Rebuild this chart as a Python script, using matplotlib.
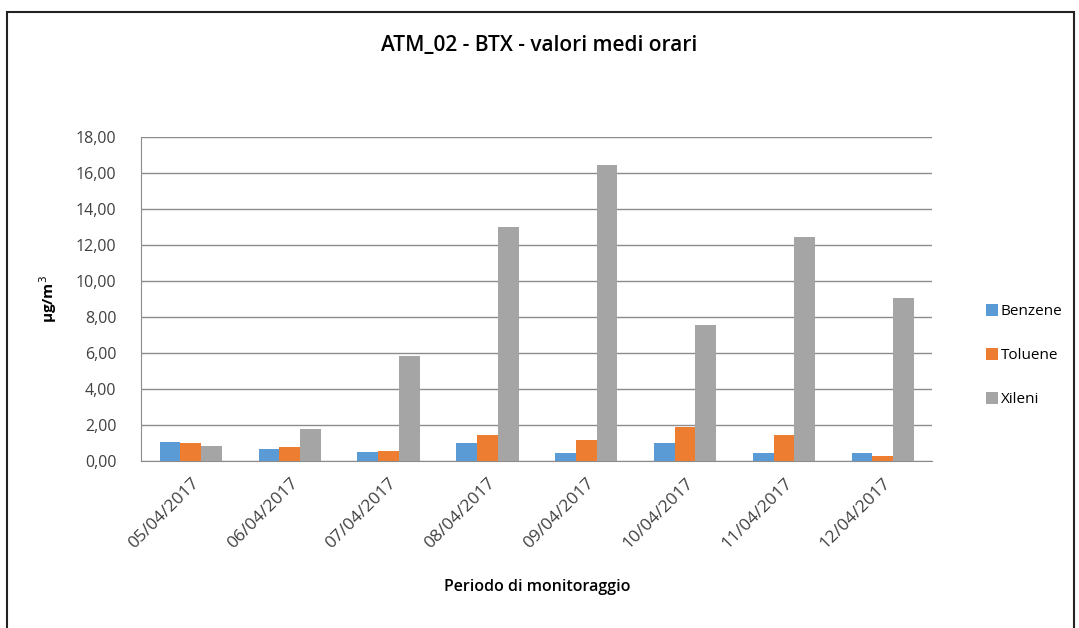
import matplotlib.pyplot as plt
import numpy as np
from matplotlib.patches import Rectangle
from matplotlib.ticker import FuncFormatter

plt.rcParams["font.family"] = ["Open Sans", "DejaVu Sans"]

dates = ["05/04/2017", "06/04/2017", "07/04/2017", "08/04/2017",
         "09/04/2017", "10/04/2017", "11/04/2017", "12/04/2017"]
benzene = [1.07, 0.67, 0.51, 0.99, 0.43, 0.99, 0.43, 0.43]
toluene = [0.99, 0.76, 0.58, 1.45, 1.15, 1.86, 1.45, 0.28]
xileni = [0.82, 1.78, 5.81, 12.99, 16.43, 7.53, 12.45, 9.06]

series = [("Benzene", benzene, "#5b9bd5"),
          ("Toluene", toluene, "#ed7d31"),
          ("Xileni", xileni, "#a5a5a5")]

fig = plt.figure(figsize=(10.79, 6.28), dpi=100)
# outer chart border (runs off the bottom edge like in the screenshot)
fig.patches.append(Rectangle((0.0065, -0.02), 0.989, 1.001, transform=fig.transFigure,
                             fill=False, edgecolor="#222222", linewidth=1.5))

ax = fig.add_axes([0.131, 0.266, 0.733, 0.516])
x = np.arange(len(dates))
w = 0.21
for i, (name, vals, col) in enumerate(series):
    ax.bar(x + (i - 1) * w, vals, width=w, color=col, label=name, zorder=3)

ax.set_xlim(-0.5, len(dates) - 0.5)
ax.set_ylim(0, 18)
ax.set_yticks(np.arange(0, 18.1, 2))
ax.yaxis.set_major_formatter(FuncFormatter(lambda v, p: f"{v:.2f}".replace(".", ",")))
ax.grid(axis="y", color="#8c8c8c", linewidth=1, zorder=0)
for s in ["top", "right"]:
    ax.spines[s].set_visible(False)
ax.spines["left"].set_color("#8c8c8c")
ax.spines["bottom"].set_color("#8c8c8c")
ax.tick_params(axis="both", length=0, labelsize=11.5, colors="#404040")
ax.tick_params(axis="y", pad=18)
ax.tick_params(axis="x", pad=10, labelsize=12.5)
ax.set_xticks(x)
ax.set_xticklabels(dates, rotation=45, ha="right", rotation_mode="anchor")

ax.set_ylabel("µg/m$^3$", fontsize=11, fontweight="bold", labelpad=12)
ax.set_xlabel("Periodo di monitoraggio", fontsize=11.5, fontweight="semibold",
              labelpad=20)
fig.suptitle("ATM_02 - BTX - valori medi orari", y=0.945, fontsize=15,
             fontweight="semibold")

ax.legend(loc="center left", bbox_to_anchor=(1.05, 0.325), frameon=False,
          fontsize=11, handlelength=0.8, handleheight=0.8, handletextpad=0.2,
          labelspacing=1.9)

fig.savefig("out.png", dpi=100)
